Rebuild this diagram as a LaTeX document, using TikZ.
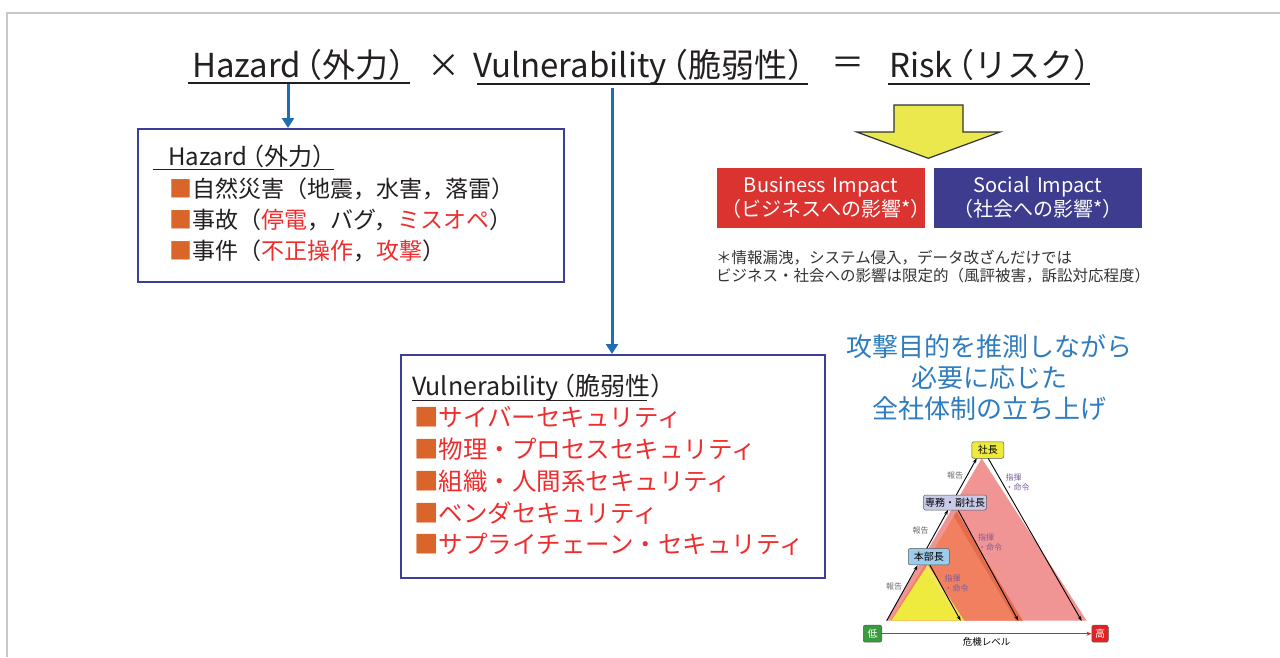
\documentclass[tikz,border=0pt]{standalone}
\usepackage{fontspec}
\setmainfont{Noto Sans CJK JP}
\usetikzlibrary{arrows.meta}
\definecolor{framegray}{HTML}{C8C8C8}
\definecolor{txtblack}{HTML}{231F20}
\definecolor{arrowblue}{HTML}{1F6DB5}
\definecolor{boxblue}{HTML}{3B3F98}
\definecolor{sqorange}{HTML}{D9652B}
\definecolor{hred}{HTML}{EE2E2E}
\definecolor{bizred}{HTML}{DB3330}
\definecolor{socblue}{HTML}{3D3C8E}
\definecolor{noteblue}{HTML}{2E7DC0}
\definecolor{arryellow}{HTML}{EAE84C}
\definecolor{tripink}{HTML}{F19494}
\definecolor{triorange}{HTML}{F0805F}
\definecolor{triorangeD}{HTML}{E46C4C}
\definecolor{triyellow}{HTML}{EEEA3E}
\definecolor{triyellowd}{HTML}{F2E65A}
\definecolor{bossyellow}{HTML}{EEEA3A}
\definecolor{vplav}{HTML}{C9C9E8}
\definecolor{hdblue}{HTML}{9DCBEA}
\definecolor{lowgreen}{HTML}{3A9A3E}
\definecolor{highred}{HTML}{E42222}
\definecolor{rptgray}{HTML}{6E6E6E}
\definecolor{cmdpurple}{HTML}{7D5C9C}
\newcommand{\myfs}[1]{\fontsize{#1}{#1}\selectfont}
\newcommand{\myfsl}[2]{\fontsize{#1}{#2}\selectfont}
\tikzset{
 frameline/.style={draw=framegray, line width=1.8pt},
 uline/.style={draw=txtblack, line width=2pt},
 bluearrow/.style={draw=arrowblue, line width=3pt, -{Triangle[width=12pt,length=10pt]}},
 infobox/.style={draw=boxblue, line width=2pt, anchor=north west, inner sep=0},
 plain/.style={anchor=base west, inner sep=0, text=txtblack},
 impact/.style={text=white, align=center, text width=200pt, minimum width=208pt, minimum height=60pt, inner sep=0, font=\myfsl{20}{24}},
 lvlbox/.style={draw=gray!70!black, line width=0.5pt, rounded corners=2pt, inner sep=1.5pt, font=\myfs{10}, text=black},
 thinarrow/.style={draw=black, line width=0.9pt, -{Stealth[length=5pt,width=3.5pt]}},
 rpt/.style={text=rptgray, font=\myfs{8}, inner sep=0},
 cmd/.style={text=cmdpurple, font=\myfsl{8}{10}, align=left, inner sep=0},
}
\begin{document}
\begin{tikzpicture}[x=1pt,y=-1pt]
\useasboundingbox (0,0) rectangle (1280,657);
\fill[white] (0,0) rectangle (1280,657);
\draw[frameline] (7.3,657) -- (7.3,13.3) -- (1280,13.3);

% title
\node[plain, font=\myfs{33}] (th) at (192,77) {Hazard\kern-0.35em（外力）};
\node[text=txtblack, font=\myfs{33}, inner sep=0] (tx) at (444,66) {×};
\node[plain, font=\myfs{33}] (tv) at (473,77) {Vulnerability\kern-0.35em（脆弱性）};
\node[text=txtblack, font=\myfs{33}, inner sep=0] (teq) at (848,66) {＝};
\node[plain, font=\myfs{33}] (tr) at (889,77) {Risk\kern-0.35em（リスク）};
\draw[uline] (188,83) -- (410,83);
\draw[uline] (477,84) -- (808,84);
\draw[uline] (888,84) -- (1090,84);

% boxes and arrows
\node[infobox, minimum width=426pt, minimum height=153pt] (hbox) at (137,128) {};
\coordinate (ha) at (288,84);
\draw[bluearrow] (ha) -- (ha |- hbox.north);
\node[infobox, minimum width=424pt, minimum height=223pt] (vbox) at (400,354) {};
\coordinate (va) at (612,88);
\draw[bluearrow] (va) -- (va |- vbox.north);

% hazard content
\node[plain, font=\myfs{24}] (hh) at (168,165) {Hazard\kern-0.3em（外力）};
\draw[line width=1.3pt, txtblack] (152.7,169.5) -- (334,169.5);
\node[plain, font=\myfs{23}] (h1) at (169,197) {\textcolor{sqorange}{■}自然災害（地震，水害，落雷）};
\node[plain, font=\myfs{23}] (h2) at (169,228.5) {\textcolor{sqorange}{■}事故（\textcolor{hred}{停電}，バグ，\textcolor{hred}{ミスオペ}）};
\node[plain, font=\myfs{23}] (h3) at (169,259.5) {\textcolor{sqorange}{■}事件（\textcolor{hred}{不正操作}，\textcolor{hred}{攻撃}）};

% vulnerability content
\node[plain, font=\myfs{25}] (vh) at (412,395) {Vulnerability\kern-0.35em（脆弱性）};
\draw[line width=1.3pt, txtblack] (412,400.5) -- (647,400.5);
\node[plain, font=\myfs{24.5}, text=hred] (v1) at (414,426.7) {\textcolor{sqorange}{■}サイバーセキュリティ};
\node[plain, font=\myfs{24.5}, text=hred] (v2) at (414,458) {\textcolor{sqorange}{■}物理・プロセスセキュリティ};
\node[plain, font=\myfs{24.5}, text=hred] (v3) at (414,490) {\textcolor{sqorange}{■}組織・人間系セキュリティ};
\node[plain, font=\myfs{24.5}, text=hred] (v4) at (414,522) {\textcolor{sqorange}{■}ベンダセキュリティ};
\node[plain, font=\myfs{24.5}, text=hred] (v5) at (414,553.5) {\textcolor{sqorange}{■}サプライチェーン・セキュリティ};

% yellow arrow
\draw[draw=black!80, line width=1.2pt, fill=arryellow, line join=miter] (894,105) -- (963,105) -- (963,132) -- (1000,132) -- (928.3,158.3) -- (856.7,132) -- (894,132) -- cycle;

% impact boxes
\node[impact, fill=bizred] (biz) at (821,197.5) {Business Impact\\（ビジネスへの影響*）};
\node[impact, fill=socblue] (soc) at (1038,197.5) {Social Impact\\（社会への影響*）};

% footnote
\node[plain, font=\myfs{15.5}, text=black!80] (n1) at (716,263) {＊情報漏洩，システム侵入，データ改ざんだけでは};
\node[plain, font=\myfs{15.5}, text=black!80] (n2) at (716,281) {ビジネス・社会への影響は限定的（風評被害，訴訟対応程度）};

% blue note
\node[text=noteblue, align=center, font=\myfsl{26}{31}, inner sep=0] (goal) at (989,378) {攻撃目的を推測しながら\\必要に応じた\\全社体制の立ち上げ};

% triangles
\fill[tripink] (981.7,458.3) -- (1086.7,620.7) -- (886,620.7) -- cycle;
\fill[triorange] (956.7,511.7) -- (1022.7,620.7) -- (890.7,620.7) -- cycle;
\fill[triorangeD] (956.7,511.7) -- (1022.7,620.7) -- (1016,620.7) -- (953.7,516) -- cycle;
\fill[triyellow] (927.7,565) -- (964,620.7) -- (891.3,620.7) -- cycle;
\fill[triyellowd] (927.7,565) -- (964,620.7) -- (959,620.7) -- (925.5,569) -- cycle;

% level boxes
\node[lvlbox, fill=bossyellow, minimum width=32pt, minimum height=16.5pt] (boss) at (987.8,450) {社長};
\node[lvlbox, fill=vplav, minimum width=63pt, minimum height=15pt] (vp) at (955,502.5) {専務・副社長};
\node[lvlbox, fill=hdblue, minimum width=41pt, minimum height=16.5pt] (hd) at (928.8,556.7) {本部長};
\node[lvlbox, fill=lowgreen, text=white, minimum width=18.5pt, minimum height=17pt] (low) at (872.5,633.7) {低};
\node[lvlbox, fill=highred, text=white, minimum width=16.5pt, minimum height=17pt] (high) at (1100,633.7) {高};
\draw[draw=highred, line width=1pt, -{Stealth[length=5pt,width=4pt]}] (low.east) -- (high.west);
\node[font=\myfs{9.5}, inner sep=0] (lvl) at (986.7,641.5) {危機レベル};

% report arrows
\coordinate (r0) at (886.7,620.7);
\coordinate (r1) at (917.6,565.3);
\coordinate (r2) at (926.8,548.3);
\coordinate (r3) at (948,510);
\coordinate (r4) at (956.3,495);
\coordinate (r5) at (976.7,458.3);
\draw[thinarrow] (r0) -- (r1);
\draw[thinarrow] (r2) -- (r3);
\draw[thinarrow] (r4) -- (r5);
% command arrows
\coordinate (c1) at (988.3,458.5);
\coordinate (c2) at (1081.7,621);
\coordinate (c3) at (958.3,510.5);
\coordinate (c4) at (1018.3,620.7);
\coordinate (c5) at (930,565.3);
\coordinate (c6) at (960.7,620.7);
\draw[thinarrow] (c1) -- (c2);
\draw[thinarrow] (c3) -- (c4);
\draw[thinarrow] (c5) -- (c6);

\node[rpt] (rp1) at (955,475) {報告};
\node[rpt] (rp2) at (920.7,530) {報告};
\node[rpt] (rp3) at (894,586.7) {報告};
\node[cmd] (cm1) at (1017.5,482) {指揮\\・命令};
\node[cmd] (cm2) at (990,542) {指揮\\・命令};
\node[cmd] (cm3) at (956.5,583) {指揮\\・命令};
\end{tikzpicture}
\end{document}
